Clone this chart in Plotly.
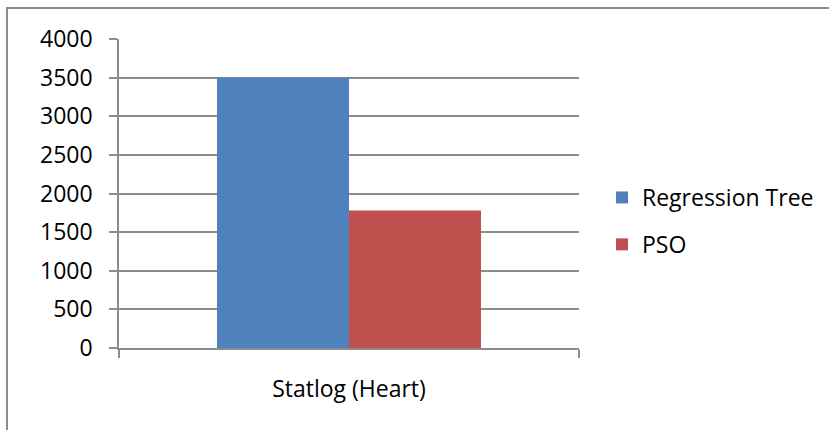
import plotly.graph_objects as go

categories = ["Statlog (Heart)"]
series_names = ["Regression Tree", "PSO"]
regression_tree = [3500]
pso = [1780]
colors = ["#4F81BD", "#C0504D"]

W, H = 829, 430
L, R, T, B = 119, 250, 39, 82
pw = W - L - R
ph = H - T - B

fig = go.Figure()
for name, vals, col, grp in [(series_names[0], regression_tree, colors[0], "a"),
                             (series_names[1], pso, colors[1], "b")]:
    fig.add_trace(go.Bar(x=categories, y=vals, name=name, marker_color=col,
                         marker_line_width=0, legendgroup=grp))

grid = "#8c8c8c"
font = dict(family="Open Sans, Calibri, sans-serif", size=23, color="#000000")

fig.update_layout(
    width=W, height=H,
    margin=dict(l=L, r=R, t=T, b=B, pad=0, autoexpand=False),
    paper_bgcolor="white", plot_bgcolor="white",
    barmode="group", bargap=0.426, bargroupgap=0,
    font=font,
    showlegend=True,
    legend=dict(x=(602 - L) / pw, y=(H - B - 221) / ph, xanchor="left", yanchor="middle",
                font=dict(size=23), tracegroupgap=14, traceorder="grouped",
                bgcolor="rgba(0,0,0,0)"),
    xaxis=dict(showline=True, linecolor=grid, linewidth=1.5, ticks="outside",
               ticklen=8, tickcolor=grid, tickwidth=1.5, tickson="boundaries",
               showgrid=False, ticklabelstandoff=20, zeroline=False),
    yaxis=dict(range=[0, 4000], dtick=500, showline=True, linecolor=grid, linewidth=1.5,
               ticks="outside", ticklen=8, tickcolor=grid, tickwidth=1.5,
               showgrid=True, gridcolor=grid, gridwidth=1.5, zeroline=False,
               ticklabelstandoff=12),
    shapes=[dict(type="rect", xref="paper", yref="paper",
                 x0=(7 - L) / pw, x1=(W + 20 - L) / pw,
                 y0=-(B + 20) / ph, y1=(H - B - 8) / ph,
                 line=dict(color="#8c8c8c", width=2), fillcolor="rgba(0,0,0,0)", layer="below")],
)

fig.write_html("out.html", config={"displayModeBar": False},
               post_script="document.body.style.margin='0';document.body.style.overflow='hidden';")
